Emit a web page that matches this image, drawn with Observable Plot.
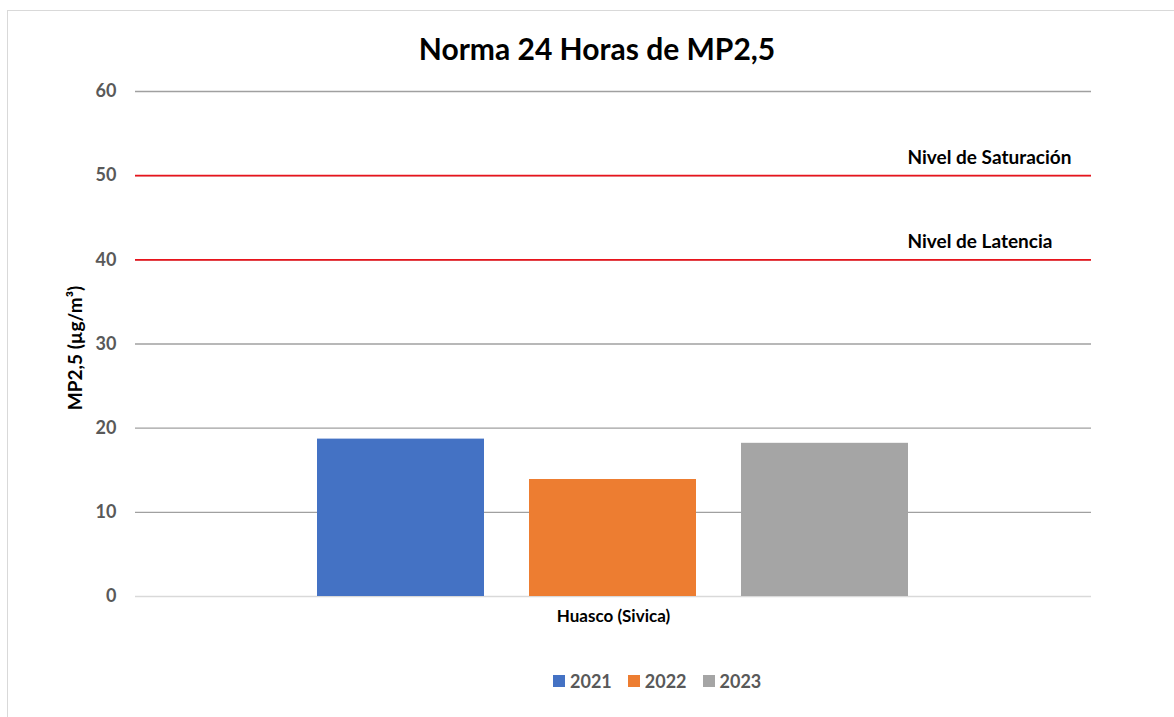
<!DOCTYPE html>
<html><head><meta charset="utf-8">
<script src="https://cdn.jsdelivr.net/npm/d3@7"></script>
<script src="https://cdn.jsdelivr.net/npm/@observablehq/plot@0.6"></script>
<style>
body{margin:0;background:#fff;font-family:Lato,"Open Sans",sans-serif;}
#wrap{position:relative;width:1174px;height:717px;overflow:hidden;background:#fff}
#border{position:absolute;left:7px;top:10px;width:1200px;height:760px;border:1px solid #d9d9d9;box-sizing:border-box}
#title{position:absolute;left:0;width:1194px;top:29px;text-align:center;font-weight:bold;font-size:30px;line-height:38px;color:#000}
#chart{position:absolute;left:0;top:0}
#legend{position:absolute;top:671px;left:553px;display:flex;align-items:center;font-weight:bold;font-size:18px;color:#595959;line-height:20px}
.item{display:flex;align-items:center;margin-right:16px}
.sw{width:12px;height:12px;margin-right:5px}
</style>
</head><body>
<div id="wrap">
  <div id="border"></div>
  <div id="chart"></div>
  <div id="title">Norma 24 Horas de MP2,5</div>
  <div id="legend"></div>
</div>
<script>
const categories = ["Huasco (Sivica)"];
const years = ["2021", "2022", "2023"];
const values = [18.7, 13.9, 18.2];
const colors = ["#4472C4", "#ED7D31", "#A5A5A5"];
const thresholds = [40, 50];
const thresholdLabels = ["Nivel de Latencia", "Nivel de Saturación"];
const yTicks = [0, 10, 20, 30, 40, 50, 60];
const yLabel = "MP2,5 (µg/m³)";

const data = years.map((yr, i) => ({site: categories[0], year: yr, value: values[i]}));
const thr = thresholds.map((v, i) => ({v, t: thresholdLabels[i]}));
const font = "Lato, 'Open Sans', sans-serif";

const chart = Plot.plot({
  width: 1174, height: 717,
  marginLeft: 135, marginRight: 83, marginTop: 91, marginBottom: 121,
  style: {fontFamily: font, background: "transparent"},
  fx: {domain: categories, padding: 0, label: null},
  x: {domain: years, paddingInner: 0.212, paddingOuter: 0.86, axis: null},
  y: {domain: [0, 60], label: null},
  color: {domain: years, range: colors},
  marks: [
    Plot.ruleY(yTicks.filter(d => d > 0), {stroke: "#a0a0a0", strokeWidth: 1.3}),
    Plot.ruleY([0], {stroke: "#d9d9d9", strokeWidth: 1.5}),
    Plot.barY(data, {fx: "site", x: "year", y: "value", fill: "year"}),
    Plot.ruleY(thr, {y: "v", stroke: "#e8141c", strokeWidth: 1.8}),
    Plot.text(thr, {y: "v", text: "t", frameAnchor: "left", textAnchor: "start", dx: 772, dy: -18, fontSize: 19, fontWeight: "bold", fill: "#000"}),
    Plot.axisY({ticks: yTicks, tickSize: 0, tickPadding: 19, fontSize: 18, fontWeight: "bold", color: "#595959", label: null}),
    Plot.axisFx({anchor: "bottom", tickSize: 0, tickPadding: 13, fontSize: 17, fontWeight: "bold", color: "#000", label: null}),
    Plot.text([yLabel], {frameAnchor: "left", textAnchor: "middle", rotate: -90, dx: -60, dy: 4, fontSize: 19, fontWeight: "bold", fill: "#000"})
  ]
});
document.getElementById("chart").appendChild(chart);

const legend = document.getElementById("legend");
years.forEach((yr, i) => {
  const it = document.createElement("div");
  it.className = "item";
  const sw = document.createElement("div");
  sw.className = "sw";
  sw.style.background = colors[i];
  const tx = document.createElement("span");
  tx.textContent = yr;
  it.appendChild(sw); it.appendChild(tx);
  legend.appendChild(it);
});
</script>
</body></html>
